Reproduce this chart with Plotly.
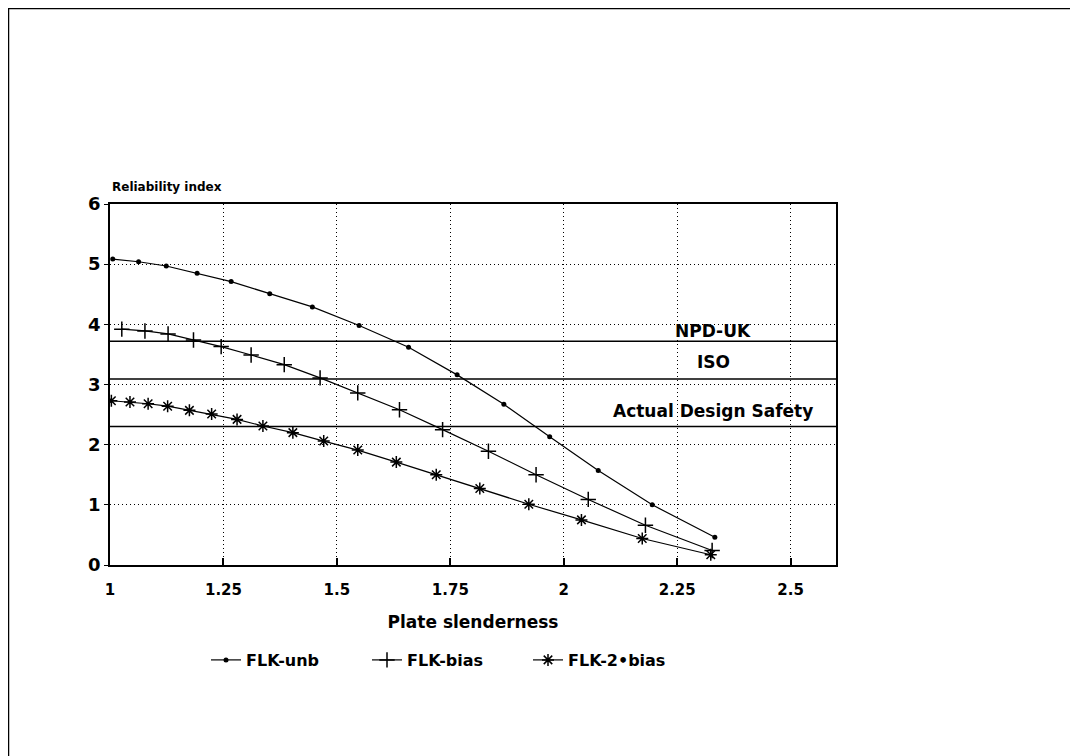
import plotly.graph_objects as go

# ---- data ----
unb_x = [1.006, 1.063, 1.124, 1.192, 1.267, 1.352, 1.446, 1.549, 1.658, 1.765, 1.868, 1.969, 2.076, 2.195, 2.333]
unb_y = [5.085, 5.04, 4.97, 4.85, 4.71, 4.51, 4.29, 3.98, 3.62, 3.16, 2.67, 2.13, 1.57, 1.00, 0.46]

bias_x = [1.026, 1.077, 1.128, 1.184, 1.245, 1.311, 1.384, 1.463, 1.546, 1.638, 1.733, 1.834, 1.939, 2.054, 2.180, 2.327]
bias_y = [3.92, 3.89, 3.84, 3.74, 3.63, 3.49, 3.33, 3.11, 2.86, 2.58, 2.25, 1.89, 1.50, 1.09, 0.66, 0.24]

bias2_x = [1.003, 1.044, 1.084, 1.127, 1.175, 1.224, 1.280, 1.337, 1.403, 1.471, 1.546, 1.631, 1.719, 1.815, 1.923, 2.039, 2.173, 2.324]
bias2_y = [2.73, 2.71, 2.68, 2.64, 2.57, 2.51, 2.42, 2.31, 2.20, 2.06, 1.91, 1.71, 1.50, 1.27, 1.01, 0.75, 0.44, 0.17]

ref_names = ["NPD-UK", "ISO", "Actual Design Safety"]
ref_values = [3.72, 3.09, 2.30]
ref_label_y = [3.89, 3.38, 2.56]
ref_label_x = 2.33

x_ticks = [1, 1.25, 1.5, 1.75, 2, 2.25, 2.5]
x_tick_text = ["1", "1.25", "1.5", "1.75", "2", "2.25", "2.5"]
y_ticks = [0, 1, 2, 3, 4, 5, 6]

FONT = "DejaVu Sans"
W, H = 1078, 756

fig = go.Figure()

fig.add_trace(go.Scatter(
    x=unb_x, y=unb_y, mode="lines+markers", name="FLK-unb",
    line=dict(color="black", width=1.2),
    marker=dict(symbol="circle", size=5, color="black"),
))
fig.add_trace(go.Scatter(
    x=bias_x, y=bias_y, mode="lines+markers", name="FLK-bias",
    line=dict(color="black", width=1.2),
    marker=dict(symbol="cross-thin", size=11, color="black",
                line=dict(color="black", width=1.5)),
))
fig.add_trace(go.Scatter(
    x=bias2_x, y=bias2_y, mode="lines+markers", name="FLK-2•bias",
    line=dict(color="black", width=1.2),
    marker=dict(symbol="asterisk", size=10, color="black",
                line=dict(color="black", width=1.5)),
))

# plot area in figure pixels (page has an 8px body margin)
plot_l, plot_r, plot_t, plot_b = 102, 828, 196, 557
pw, ph = plot_r - plot_l, plot_b - plot_t
def px(x):
    return (x - plot_l) / pw
def py(y):
    return (plot_b - y) / ph

shapes = []
annotations = []
for name, v, ly in zip(ref_names, ref_values, ref_label_y):
    shapes.append(dict(type="line", xref="paper", yref="y", x0=0, x1=1, y0=v, y1=v,
                       line=dict(color="black", width=1.5), layer="above"))
    annotations.append(dict(x=ref_label_x, y=ly, xref="x", yref="y", text=name,
                            showarrow=False, xanchor="center", yanchor="middle",
                            font=dict(family=FONT, size=17, color="black", weight="bold")))

# outer frame (top and left edges)
shapes.append(dict(type="line", xref="paper", yref="paper", x0=px(-2), x1=px(W + 10), y0=py(0), y1=py(0),
                   line=dict(color="black", width=2.5)))
shapes.append(dict(type="line", xref="paper", yref="paper", x0=px(0), x1=px(0), y0=py(0), y1=py(H + 10),
                   line=dict(color="black", width=2.5)))

annotations.append(dict(x=0, y=1, xref="paper", yref="paper", text="Reliability index",
                        showarrow=False, xanchor="left", yanchor="bottom", yshift=8,
                        font=dict(family=FONT, size=12, color="black", weight="bold")))

fig.update_layout(
    width=W, height=H,
    margin=dict(l=plot_l, r=W - plot_r, t=plot_t, b=H - plot_b),
    paper_bgcolor="white", plot_bgcolor="white",
    font=dict(family=FONT, color="black"),
    shapes=shapes, annotations=annotations,
    showlegend=True,
    legend=dict(orientation="h", x=px(198), xanchor="left", y=py(652), yanchor="middle",
                font=dict(family=FONT, size=16, color="black", weight="bold"),
                itemwidth=30, entrywidth=116, entrywidthmode="pixels",
                tracegroupgap=0, bgcolor="rgba(0,0,0,0)"),
)

fig.update_xaxes(
    range=[1, 2.6], tickvals=x_ticks, ticktext=x_tick_text,
    showgrid=True, gridcolor="black", griddash="1px,3px", gridwidth=1,
    showline=True, linecolor="black", linewidth=1.5, mirror=True,
    ticks="inside", ticklen=7, tickcolor="black", tickwidth=1.5,
    ticklabelstandoff=10,
    tickfont=dict(family=FONT, size=15, color="black", weight="bold"),
    title=dict(text="Plate slenderness", standoff=18,
               font=dict(family=FONT, size=17, color="black", weight="bold")),
    zeroline=False,
)
fig.update_yaxes(
    range=[0, 6], tickvals=y_ticks,
    showgrid=True, gridcolor="black", griddash="1px,3px", gridwidth=1,
    showline=True, linecolor="black", linewidth=1.5, mirror=True,
    ticks="outside", ticklen=4, tickcolor="black",
    tickfont=dict(family=FONT, size=18, color="black", weight="bold"),
    zeroline=False,
)

fig.write_html("out.html")
